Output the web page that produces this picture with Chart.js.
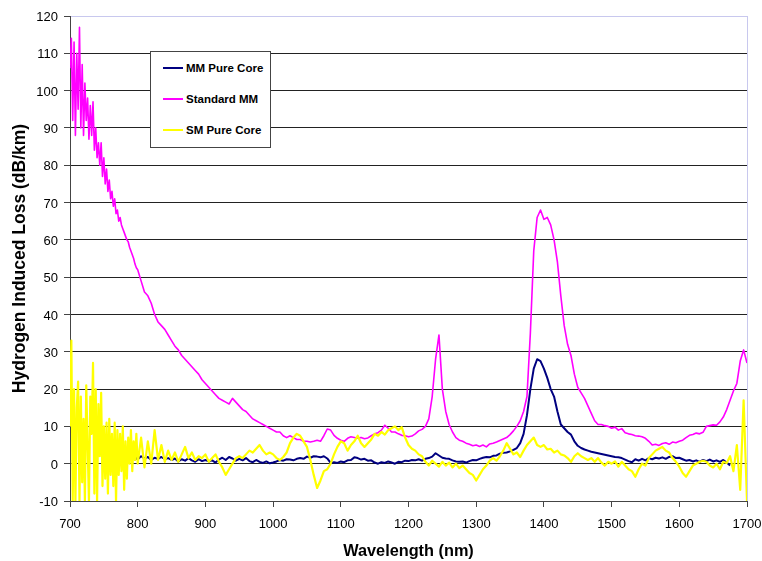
<!DOCTYPE html>
<html>
<head>
<meta charset="utf-8">
<script src="https://cdn.jsdelivr.net/npm/chart.js@4/dist/chart.umd.min.js"></script>
<style>
    body { margin: 0; background: #fff; }
    #wrap { position: relative; width: 762px; height: 561px; }
    #legend {
        position: absolute; left: 150px; top: 51px; width: 119px; height: 95px;
        border: 1px solid #444; background: #fff;
        font-family: 'Liberation Sans', Arial, sans-serif; font-weight: bold; font-size: 11.5px; color: #000;
    }
    .legend-row { height: 31px; display: flex; align-items: center; padding-left: 12px; }
    .legend-line { width: 20px; height: 2px; margin-right: 3px; }
</style>
</head>
<body>
<div id="wrap">
    <canvas id="chart" width="762" height="561"></canvas>
    <div id="legend"></div>
</div>
<script>
// wavelength grid (nm): 2 nm steps in the noisy 700-800 part, 5 nm after
const wavelengths = [
    700, 702, 704, 706, 708, 710, 712, 714, 716, 718, 720, 722, 724, 726, 728, 730, 732, 734, 736, 738,
    740, 742, 744, 746, 748, 750, 752, 754, 756, 758, 760, 762, 764, 766, 768, 770, 772, 774, 776, 778,
    780, 782, 784, 786, 788, 790, 792, 794, 796, 798,
    800, 805, 810, 815, 820, 825, 830, 835, 840, 845, 850, 855, 860, 865, 870, 875, 880, 885, 890, 895,
    900, 905, 910, 915, 920, 925, 930, 935, 940, 945, 950, 955, 960, 965, 970, 975, 980, 985, 990, 995,
    1000, 1005, 1010, 1015, 1020, 1025, 1030, 1035, 1040, 1045, 1050, 1055, 1060, 1065, 1070, 1075, 1080, 1085, 1090, 1095,
    1100, 1105, 1110, 1115, 1120, 1125, 1130, 1135, 1140, 1145, 1150, 1155, 1160, 1165, 1170, 1175, 1180, 1185, 1190, 1195,
    1200, 1205, 1210, 1215, 1220, 1225, 1230, 1235, 1240, 1245, 1250, 1255, 1260, 1265, 1270, 1275, 1280, 1285, 1290, 1295,
    1300, 1305, 1310, 1315, 1320, 1325, 1330, 1335, 1340, 1345, 1350, 1355, 1360, 1365, 1370, 1375, 1380, 1385, 1390, 1395,
    1400, 1405, 1410, 1415, 1420, 1425, 1430, 1435, 1440, 1445, 1450, 1455, 1460, 1465, 1470, 1475, 1480, 1485, 1490, 1495,
    1500, 1505, 1510, 1515, 1520, 1525, 1530, 1535, 1540, 1545, 1550, 1555, 1560, 1565, 1570, 1575, 1580, 1585, 1590, 1595,
    1600, 1605, 1610, 1615, 1620, 1625, 1630, 1635, 1640, 1645, 1650, 1655, 1660, 1665, 1670, 1675, 1680, 1685, 1690, 1695,
    1700
];

// MM Pure Core (dB/km)
const mmPureCore = [
    null, null, null, null, null, null, null, null, null, null, null, null, null, null, null, null, null, null, null, null,
    null, null, null, null, null, null, null, null, null, null, null, null, null, null, null, null, null, null, null, null,
    1.5, 0.8, 2.2, 1.2, 1.8, 1, 1.6, 2, 1.1, 1.6,
    1.2, 2, 1.4, 1.8, 1, 1.6, 1.3, 1.8, 1.2, 1.5, 1, 1.4, 0.6, 1.2, 0.8, 1.5, 0.9, 0.5, 1.2, 0.7,
    1, 0.6, 0.9, 0.3, 1.1, 1.6, 1, 1.8, 1.4, 0.8, 1.3, 0.9, 1.5, 0.7, 0.4, 1, 0.5, 0.2, 0.6, 0.1,
    0.3, 0.6, 1, 0.8, 1.2, 1.1, 0.9, 1.3, 1.5, 1.3, 1.9, 1.6, 2, 1.9, 1.7, 2, 1.4, 0.2, 0.4, 0.2,
    0.6, 0.4, 0.9, 1, 1.7, 1.5, 1.1, 1.3, 0.8, 0.9, 0.3, 0, 0.4, 0.2, 0.6, 0.3, 0, 0.5, 0.4, 0.8,
    0.7, 1, 0.9, 1.2, 0.8, 1.3, 1.5, 1.9, 2.8, 2.2, 1.6, 1.4, 1.3, 0.9, 0.6, 0.5, 0.6, 0.3, 0.7, 1,
    0.9, 1.3, 1.6, 1.8, 1.7, 2.1, 2.2, 2.7, 2.9, 3, 3.3, 3.7, 4.2, 5.5, 8, 13, 20, 25.5, 28, 27.5,
    25.5, 23, 20, 18, 14, 10.5, 9.5, 8.5, 7.8, 6, 4.8, 4.2, 3.8, 3.5, 3.2, 3, 2.8, 2.6, 2.4, 2.2,
    2, 1.8, 1.7, 1.5, 1.1, 0.7, 0.4, 1.2, 0.8, 1.3, 0.9, 1.5, 1.2, 1.6, 1.4, 1.7, 1.3, 1.8, 2, 1.5,
    1.6, 1.2, 0.8, 1, 0.6, 0.9, 0.5, 1, 0.7, 1.1, 0.6, 0.9, 0.5, 1, 0.3, -0.5, null, null, null, null,
    null
];

// Standard MM (dB/km)
const standardMM = [
    106, 114, 92, 113, 88, 110, 95, 117, 90, 107, 88, 102, 92, 98, 87, 96, 88, 97, 84, 90,
    82, 86, 80, 86, 77, 82, 75, 79, 73, 76, 71, 73, 69, 71, 67, 68, 65, 66, 64, 63,
    62, 61, 60, 59.5, 58, 57, 56, 55, 53.5, 52.5,
    52, 49, 46, 45, 43, 40, 38, 37, 36, 34.5, 33, 31.5, 30.5, 29, 28, 27, 26, 25, 24, 22.5,
    21.5, 20.5, 19.5, 18.5, 17.5, 17, 16.5, 16, 17.5, 16.5, 15.5, 14.5, 14, 13, 12, 11.5, 11, 10.5, 10, 9.5,
    9, 8.5, 8.5, 7.5, 7, 7.5, 7, 6.5, 6.5, 6, 6, 5.8, 6, 6.3, 6, 7.5, 9.3, 9, 7.6, 6.8,
    6.3, 6, 6.8, 7.2, 7, 6.8, 7, 6.7, 6.9, 7.5, 8, 8.3, 9, 10.3, 9.5, 8.5, 8.5, 8, 7.6, 7.5,
    7.2, 7.4, 8, 8.8, 9.2, 10, 12, 18, 28, 34.5, 20, 14, 10.5, 8.5, 7, 6.3, 6, 5.5, 5.2, 4.8,
    5, 4.6, 5, 4.5, 5.3, 5.5, 5.8, 6.2, 6.6, 7, 7.8, 8.8, 10, 11.5, 14, 18, 35, 57, 66, 68,
    65.5, 66, 64, 60, 54, 45, 37, 32, 29, 24, 20.5, 19, 17.5, 15.5, 13.5, 11.5, 10.5, 10.5, 10.2, 10,
    9.5, 9.8, 9, 9.4, 8.3, 8, 7.8, 7.5, 7.4, 7.2, 6.8, 6, 5, 5.2, 4.9, 5.4, 5.6, 5.2, 5.8, 5.6,
    6, 6.3, 7, 7.6, 7.8, 8.2, 8, 8.4, 10, 10.2, 10.4, 10.3, 11.2, 12.5, 14.5, 17, 19.5, 21.5, 27.5, 30.5,
    27
];

// SM Pure Core (dB/km)
const smPureCore = [
    10, 33, -10, 20, -10, 15, 22, -10, 18, -5, 12, -10, 21, 5, -10, 18, 8, 27, -8, 20,
    -10, 16, 2, 19, -6, 10, -4, 11, -8, 12, -3, 8, -6, 11, -10, 9, -3, 8, -2, 10,
    -7, 6, -4, 7, 0, 9, -2, 6, 1, 8,
    0, 7, -1, 6, 0, 9, 1, 5, 0.5, 3.5, 1, 3, 0.5, 2.5, 4.5, 1.5, 3, 1, 2, 1.5,
    2.5, 0.5, 1.5, 2.5, 0.5, -1, -3, -1.5, 0, 1.5, 2, 1.5, 2.5, 3.5, 3, 4, 5, 3.5, 2.5, 3,
    2.5, 1.5, 1, 1.8, 3, 5.5, 7, 8, 7.5, 6, 4.5, 1, -3, -6.5, -4.5, -2, -1.5, 0, 2.5, 4.5,
    6, 5.5, 3.5, 5, 6, 7.5, 5.5, 4.5, 5.5, 6.5, 8, 7.5, 8.5, 7.8, 9, 9.5, 10, 9, 9.8, 7,
    5, 4, 3.5, 2.5, 2, 0.5, -0.5, 0.8, 0, -0.8, 0.5, -0.5, 0.3, -1, 0, -1.2, -0.5, -1.5, -2.5, -3,
    -4.5, -3, -1.5, -0.5, 0.8, 1.5, 0.8, 2, 3.5, 5.5, 4, 2.5, 3, 1.8, 3.5, 5, 6, 7, 5, 4.5,
    5, 3.8, 4, 3, 3.5, 2.5, 2.2, 1.5, 0.5, 2, 2.8, 2, 1.5, 1, 1.5, 0.5, 1.5, 0.3, -0.5, 0.5,
    0, 0.6, -0.8, 0.5, -0.5, -1.5, -2, -3.5, -1.5, 0, -0.5, 1.5, 2.5, 3.5, 4, 4.5, 3.5, 3, 1.5, 0.5,
    -0.8, -2.5, -3.5, -2, -0.5, 0, 0.5, 0.8, 0.5, -0.5, -1, 0, -1.5, 0.5, 0.2, 2, -2, 5, -7, 17,
    -10
];

const seriesNames = ['MM Pure Core', 'Standard MM', 'SM Pure Core'];
const seriesColors = ['#000080', '#ff00ff', '#ffff00'];
const yTicks = { min: -10, max: 120, step: 10 };
const xTicks = { min: 700, max: 1700, step: 100 };

const FONT = "'Liberation Sans', Arial, sans-serif";

function toPoints(values) {
    return values.map((v, i) => ({ x: wavelengths[i], y: v }));
}

const chart = new Chart(document.getElementById('chart'), {
    type: 'line',
    data: {
        datasets: [
            { label: seriesNames[0], data: toPoints(mmPureCore), borderColor: seriesColors[0], borderWidth: 2, order: 3 },
            { label: seriesNames[1], data: toPoints(standardMM), borderColor: seriesColors[1], borderWidth: 1.6, order: 2 },
            { label: seriesNames[2], data: toPoints(smPureCore), borderColor: seriesColors[2], borderWidth: 2.2, order: 1 }
        ]
    },
    options: {
        responsive: false,
        animation: false,
        devicePixelRatio: 1,
        spanGaps: false,
        elements: { point: { radius: 0 }, line: { tension: 0, borderJoinStyle: 'round' } },
        layout: { padding: { top: 16, right: 15, left: 0, bottom: 0 } },
        plugins: { legend: { display: false }, tooltip: { enabled: false } },
        scales: {
            x: {
                type: 'linear',
                min: xTicks.min,
                max: xTicks.max,
                afterFit: (scale) => {
                    scale.height = 60;
                    // keep the plot's right edge where the picture has it
                    scale.paddingLeft = 0;
                    scale.paddingRight = 15;
                },
                ticks: {
                    stepSize: xTicks.step,
                    padding: 10,
                    color: '#000',
                    font: { family: FONT, size: 13 },
                    maxRotation: 0,
                    callback: (v) => v
                },
                grid: {
                    drawOnChartArea: true,
                    color: (ctx) => ctx.tick && ctx.tick.value === xTicks.max ? '#c8c8ee' : 'rgba(0,0,0,0)',
                    tickColor: '#444',
                    tickLength: 6
                },
                border: { color: '#444', width: 1 },
                title: {
                    display: true,
                    text: 'Wavelength (nm)',
                    color: '#000',
                    font: { family: FONT, size: 16.3, weight: 'bold' },
                    padding: { top: 0, bottom: 0 }
                }
            },
            y: {
                min: yTicks.min,
                max: yTicks.max,
                afterFit: (scale) => { scale.width = 70; },
                ticks: {
                    stepSize: yTicks.step,
                    padding: 6,
                    labelOffset: 1.5,
                    color: '#000',
                    font: { family: FONT, size: 13 }
                },
                grid: {
                    color: (ctx) => ctx.tick && ctx.tick.value === yTicks.max ? '#c8c8ee' : '#222',
                    tickColor: '#444',
                    tickLength: 6
                },
                border: { color: '#444', width: 1 },
                title: {
                    display: true,
                    text: 'Hydrogen Induced Loss (dB/km)',
                    color: '#000',
                    font: { family: FONT, size: 17.5, weight: 'bold' },
                    padding: { top: 10, bottom: 0 }
                }
            }
        }
    }
});

// legend box drawn as html over the plot
const legend = document.getElementById('legend');
chart.data.datasets.forEach(ds => {
    const row = document.createElement('div');
    row.className = 'legend-row';
    const line = document.createElement('span');
    line.className = 'legend-line';
    line.style.background = ds.borderColor;
    const text = document.createElement('span');
    text.textContent = ds.label;
    row.appendChild(line);
    row.appendChild(text);
    legend.appendChild(row);
});
</script>
</body>
</html>
